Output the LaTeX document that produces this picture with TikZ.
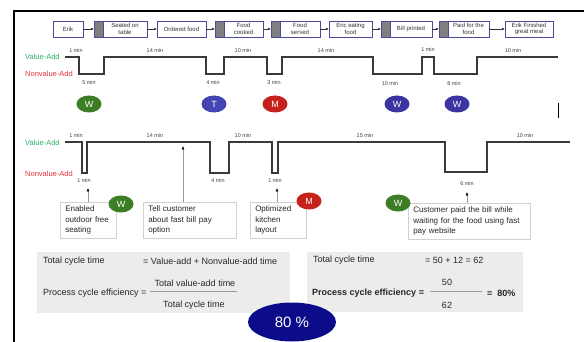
\documentclass[tikz,border=0pt]{standalone}
\usepackage{fontspec}
\setmainfont{Liberation Sans}
\usetikzlibrary{shapes.geometric,arrows.meta}
\definecolor{boxblue}{HTML}{4B4B9B}
\definecolor{bandgray}{HTML}{7F7F7F}
\definecolor{txtgray}{HTML}{333333}
\definecolor{vagreen}{HTML}{2AAE62}
\definecolor{nvred}{HTML}{E5323C}
\definecolor{linegray}{HTML}{3A3A3A}
\definecolor{wgreen}{HTML}{3D7D26}
\definecolor{tblue}{HTML}{4444B2}
\definecolor{mred}{HTML}{C4221B}
\definecolor{wblue}{HTML}{3A35A0}
\definecolor{panelgray}{HTML}{ECECEC}
\definecolor{navy}{HTML}{0C0C8A}
\begin{document}
\begin{tikzpicture}[x=1pt,y=-1pt,
  procbox/.style={draw=boxblue, line width=0.7pt, fill=white, minimum height=16pt,
    inner sep=0pt, outer sep=0pt, font=\fontsize{6}{6.5}\selectfont, text=txtgray, align=center},
  band/.style={draw=boxblue, fill=bandgray, line width=0.7pt, minimum width=9pt,
    minimum height=16pt, inner sep=0pt, outer sep=0pt},
  flow/.style={-{Latex[length=3pt,width=2.6pt]}, line width=0.5pt, draw=black!80},
  mins/.style={font=\fontsize{5.5}{6}\selectfont, text=black!75, inner sep=0pt},
  va/.style={font=\fontsize{7.5}{8}\selectfont, text=vagreen, anchor=west, inner sep=0pt},
  nva/.style={font=\fontsize{7.5}{8}\selectfont, text=nvred, anchor=west, inner sep=0pt},
  tline/.style={draw=linegray, line width=1.1pt},
  letter/.style={ellipse, minimum width=25pt, minimum height=17pt, inner sep=0pt,
    text=white, font=\fontsize{9}{9}\selectfont},
  desc/.style={draw=black!18, fill=white, line width=0.5pt, anchor=north west,
    align=left, inner xsep=5pt, inner ysep=3pt, minimum height=36pt,
    font=\fontsize{8}{10.5}\selectfont, text=black!85},
  uparrow/.style={-{Latex[length=3.5pt,width=3pt,color=black]}, draw=black!40, line width=0.6pt},
  panel/.style={fill=panelgray, draw=none, anchor=north west, inner sep=0pt},
  ptext/.style={font=\fontsize{9}{9.5}\selectfont, text=black!85, inner sep=0pt},
  pbold/.style={font=\fontsize{9}{9.5}\selectfont\bfseries, text=black!85, inner sep=0pt},
]
\useasboundingbox (0,0) rectangle (584,342);
% frame
\draw[line width=1.1pt] (14,342) -- (14,11) -- (584,11);
\draw[line width=0.8pt] (558,103) -- (558,118);

% process boxes
\node[procbox, minimum width=30pt] (erik) at (68,29) {Erik};
\node[band] (b2) at (98.5,29) {};
\node[procbox, minimum width=44pt] (seated) at (125,29) {Seated on\\table};
\node[procbox, minimum width=49pt] (ordered) at (181.5,29) {Ordered food};
\node[band] (b4) at (219.5,29) {};
\node[procbox, minimum width=39pt] (cooked) at (243.5,29) {Food\\cooked};
\node[band] (b5) at (275.5,29) {};
\node[procbox, minimum width=40pt] (served) at (300,29) {Food\\served};
\node[procbox, minimum width=43pt] (eating) at (350.5,29) {Eric eating\\food};
\node[band] (b7) at (385.5,29) {};
\node[procbox, minimum width=42pt] (bill) at (411,29) {Bill printed};
\node[band] (b8) at (443.5,29) {};
\node[procbox, minimum width=41pt] (paid) at (468.5,29) {Paid for the\\food};
\node[procbox, minimum width=48pt] (finished) at (529,29) {Erik Finished\\great meal};
\draw[flow] (erik) -- (b2);
\draw[flow] (seated) -- (ordered);
\draw[flow] (ordered) -- (b4);
\draw[flow] (cooked) -- (b5);
\draw[flow] (served) -- (eating);
\draw[flow] (eating) -- (b7);
\draw[flow] (bill) -- (b8);
\draw[flow] (paid) -- (finished);

% timeline 1
\node[va] (va1) at (25,57) {Value-Add};
\node[nva] (nva1) at (25,74) {Nonvalue-Add};
\draw[tline] (65,57) -- (79,57) -- (79,74) -- (104,74) -- (104,57) -- (206,57) -- (206,74)
  -- (224,74) -- (224,57) -- (267,57) -- (267,74) -- (282,74) -- (282,57) -- (373,57)
  -- (373,74) -- (422,74) -- (422,57) -- (434,57) -- (434,74) -- (477,74) -- (477,57) -- (558,57);
\node[mins] (m11) at (76,51) {1 min};
\node[mins] (m12) at (89,83) {5 min};
\node[mins] (m13) at (155,51) {14 min};
\node[mins] (m14) at (213,83) {4 min};
\node[mins] (m15) at (243,51) {10 min};
\node[mins] (m16) at (274,83) {3 min};
\node[mins] (m17) at (326,51) {14 min};
\node[mins] (m18) at (390,84) {10 min};
\node[mins] (m19) at (428,50) {1 min};
\node[mins] (m110) at (454,84) {8 min};
\node[mins] (m111) at (513,51) {10 min};
\node[letter, fill=wgreen] (c1) at (89,104) {W};
\node[letter, fill=tblue] (c2) at (214,104) {T};
\node[letter, fill=mred] (c3) at (275,104) {M};
\node[letter, fill=wblue] (c4) at (397,104) {W};
\node[letter, fill=wblue] (c5) at (457,104) {W};

% timeline 2
\node[va] (va2) at (25,143) {Value-Add};
\node[nva] (nva2) at (25,174) {Nonvalue-Add};
\draw[tline] (65,142) -- (82,142) -- (82,173) -- (87,173) -- (87,142) -- (210,142) -- (210,173)
  -- (229,173) -- (229,142) -- (272,142) -- (272,173) -- (278,173) -- (278,142) -- (445,142)
  -- (445,172) -- (487,172) -- (487,142) -- (570,142);
\node[mins] (m21) at (76,136) {1 min};
\node[mins] (m22) at (155,136) {14 min};
\node[mins] (m23) at (243,136) {10 min};
\node[mins] (m24) at (365,136) {15 min};
\node[mins] (m25) at (525,136) {10 min};
\node[mins] (m26) at (84,181) {1 min};
\node[mins] (m27) at (218,181) {4 min};
\node[mins] (m28) at (275,181) {1 min};
\node[mins] (m29) at (467,184) {6 min};

% description boxes
\node[desc, minimum width=56pt, text width=46pt] (enab) at (60,202) {Enabled\\outdoor free\\seating};
\node[desc, minimum width=93pt, text width=83pt] (tell) at (143,202) {Tell customer\\about fast bill pay\\option};
\node[desc, minimum width=56pt, text width=46pt] (opt) at (250,202) {Optimized\\kitchen\\layout};
\node[desc, minimum width=122pt, text width=112pt] (cust) at (408,203) {Customer paid the bill while\\waiting for the food using fast\\pay website};
\coordinate (t1) at (88,188);
\coordinate (t2) at (183,146);
\coordinate (t3) at (277,188);
\coordinate (t4) at (467,192);
\draw[uparrow] (enab.north -| t1) -- (t1);
\draw[uparrow] (tell.north -| t2) -- (t2);
\draw[uparrow] (opt.north -| t3) -- (t3);
\draw[uparrow] (cust.north -| t4) -- (t4);
\node[letter, fill=wgreen] (c6) at (121,204) {W};
\node[letter, fill=mred] (c7) at (309,201) {M};
\node[letter, fill=wgreen] (c8) at (398,203) {W};

% bottom panels
\node[panel, minimum width=253pt, minimum height=61pt] (lp) at (37,252) {};
\node[panel, minimum width=216pt, minimum height=60pt] (rp) at (307,252) {};
\node[ptext, anchor=west] (l1) at (43,261) {Total cycle time};
\node[ptext, anchor=west] (l2) at (143,261) {= Value-add + Nonvalue-add time};
\node[ptext, anchor=west] (l3) at (43,293) {Process cycle efficiency =};
\node[ptext] (l4) at (195,283) {Total value-add time};
\node[ptext] (l5) at (194,305) {Total cycle time};
\coordinate (lf1) at (150,291);
\coordinate (lf2) at (237,291);
\draw[draw=black!40, line width=0.8pt] (lf1) -- (lf2);
\node[ptext, anchor=west] (r1) at (313,260) {Total cycle time};
\node[ptext, anchor=west] (r2) at (425,260) {= 50 + 12 = 62};
\node[pbold, anchor=west] (r3) at (312,293) {Process cycle efficiency =};
\node[ptext] (r4) at (447,282) {50};
\node[ptext] (r5) at (447,305) {62};
\coordinate (rf1) at (430,291);
\coordinate (rf2) at (482,291);
\draw[draw=black!40, line width=0.8pt] (rf1) -- (rf2);
\node[pbold, anchor=west] (r6) at (487,293) {= \ 80\%};

% result ellipse
\node[ellipse, fill=navy, minimum width=88pt, minimum height=39pt, inner sep=0pt,
  text=white, font=\fontsize{15}{15}\selectfont] (res) at (292,322) {80 \%};
\end{tikzpicture}
\end{document}
